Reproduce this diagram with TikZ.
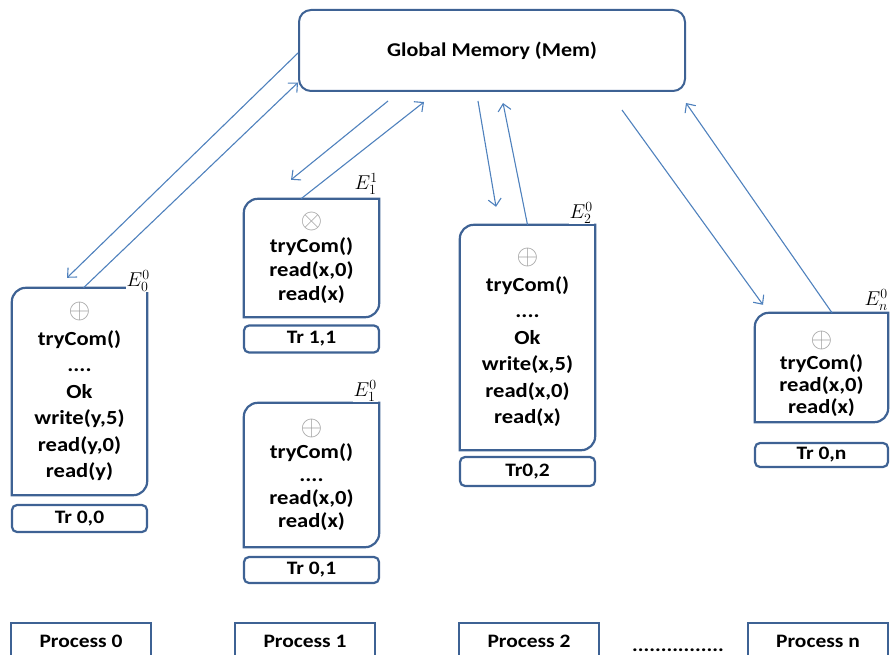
\documentclass[tikz,border=0pt]{standalone}
\usepackage{fix-cm}
\usepackage{fontspec}
\setmainfont{Carlito}[FakeStretch=1.13]
\usetikzlibrary{arrows.meta}
\definecolor{boxblue}{RGB}{62,98,148}
\definecolor{flowblue}{RGB}{79,129,189}
\newcommand{\opl}{{\color{gray!75}\scalebox{1.4}{$\oplus$}}}
\newcommand{\otm}{{\color{gray!75}\scalebox{1.4}{$\otimes$}}}
\tikzset{
	membox/.style={draw=boxblue, line width=2pt, rounded corners=12pt,
		minimum width=386pt, minimum height=81pt,
		font=\fontsize{19.5}{24}\selectfont\bfseries},
	evbox/.style={minimum width=135pt, inner sep=0pt, align=center,
		font=\fontsize{20}{26.5}\selectfont\bfseries},
	evline/.style={draw=boxblue, line width=2.2pt},
	trbox/.style={draw=boxblue, line width=2.2pt, rounded corners=5pt,
		minimum width=135pt, minimum height=27pt, inner sep=0pt,
		font=\fontsize{19}{22}\selectfont\bfseries},
	procbox/.style={draw=boxblue, line width=2pt, anchor=north,
		minimum width=140pt, minimum height=36pt, inner sep=0pt,
		font=\fontsize{19}{22}\selectfont\bfseries},
	elabel/.style={font=\fontsize{20}{24}\selectfont, inner sep=1pt, fill=white},
	flow/.style={draw=flowblue, line width=1.1pt,
		-{Straight Barb[length=7pt,width=13pt]}}
}
\begin{document}
\begin{tikzpicture}[x=1pt,y=-1pt]
	\useasboundingbox (0,0) rectangle (891,655);
	% shared memory
	\node[membox] (mem) at (492,50.5) {Global Memory (Mem)};
	% executions
	\node[evbox, minimum height=207pt] (e00) at (79.5,391.5)
		{\opl\\tryCom()\\....\\Ok\\write(y,5)\\read(y,0)\\read(y)};
	\node[evbox, minimum height=118pt, font=\fontsize{20}{24}\selectfont\bfseries] (e11) at (311.5,258)
		{\otm\\tryCom()\\read(x,0)\\read(x)};
	\node[evbox, minimum height=144pt, font=\fontsize{20}{23}\selectfont\bfseries] (e10) at (311.5,475)
		{\opl\\tryCom()\\....\\read(x,0)\\read(x)};
	\node[evbox, minimum height=225pt] (e20) at (527.5,337.5)
		{\opl\\tryCom()\\....\\Ok\\write(x,5)\\read(x,0)\\read(x)};
	\node[evbox, minimum width=133pt, minimum height=109pt, font=\fontsize{20}{22}\selectfont\bfseries] (en0) at (821.5,367.5)
		{\rule{0pt}{30pt}\opl\\tryCom()\\read(x,0)\\read(x)};
	\foreach \n in {e00,e11,e10,e20,en0}
		\draw[evline] (\n.south) -- (\n.south west)
			[rounded corners=14pt] -- (\n.north west)
			[sharp corners] -- (\n.north east)
			[rounded corners=14pt] -- (\n.south east)
			[sharp corners] -- (\n.south);
	% execution labels
	\node[elabel] (l00) at ([xshift=-9pt,yshift=7pt]e00.north east) {$E_0^0$};
	\node[elabel] (l11) at ([xshift=-13pt,yshift=15pt]e11.north east) {$E_1^1$};
	\node[elabel] (l10) at ([xshift=-14pt,yshift=12pt]e10.north east) {$E_1^0$};
	\node[elabel] (l20) at ([xshift=-14pt,yshift=12pt]e20.north east) {$E_2^0$};
	\node[elabel] (ln0) at ([xshift=-12pt,yshift=13pt]en0.north east) {$E_n^0$};
	% transactions
	\node[trbox] (tr00) at (79.5,518.5) {Tr 0,0};
	\node[trbox] (tr11) at (311.5,339) {Tr 1,1};
	\node[trbox, minimum height=26pt] (tr01) at (311.5,570) {Tr 0,1};
	\node[trbox, minimum height=29pt] (tr02) at (527.5,471.5) {Tr0,2};
	\node[trbox, minimum width=133pt, minimum height=24pt] (tr0n) at (821.5,455) {Tr 0,n};
	% processes
	\node[procbox] (p0) at (81,622) {Process 0};
	\node[procbox] (p1) at (305,622) {Process 1};
	\node[procbox] (p2) at (529,622) {Process 2};
	\node[font=\fontsize{19}{22}\selectfont\bfseries] (dots) at (678,650) {................};
	\node[procbox] (pn) at (818,622) {Process n};
	% messages
	\draw[flow] ([yshift=-2.5pt]mem.west) -- ([xshift=-12.5pt,yshift=10pt]e00.north);
	\draw[flow] ([xshift=4pt]e00.north) -- ([yshift=-32pt]mem.west);
	\draw[flow] ([xshift=-104pt,yshift=-9pt]mem.south) -- ([xshift=-20.5pt,yshift=19pt]e11.north);
	\draw[flow] ([xshift=-10.5pt]e11.north) -- ([xshift=-68pt,yshift=-10pt]mem.south);
	\draw[flow] ([xshift=-14pt,yshift=-9pt]mem.south) -- ([xshift=-31.5pt,yshift=18pt]e20.north);
	\draw[flow] (e20.north) -- ([xshift=11pt,yshift=-11pt]mem.south);
	\draw[flow] ([xshift=130pt,yshift=-18pt]mem.south) -- ([xshift=-58.5pt,yshift=8pt]en0.north);
	\draw[flow] ([xshift=10.5pt]en0.north) -- ([xshift=194pt,yshift=-11pt]mem.south);
\end{tikzpicture}
\end{document}
